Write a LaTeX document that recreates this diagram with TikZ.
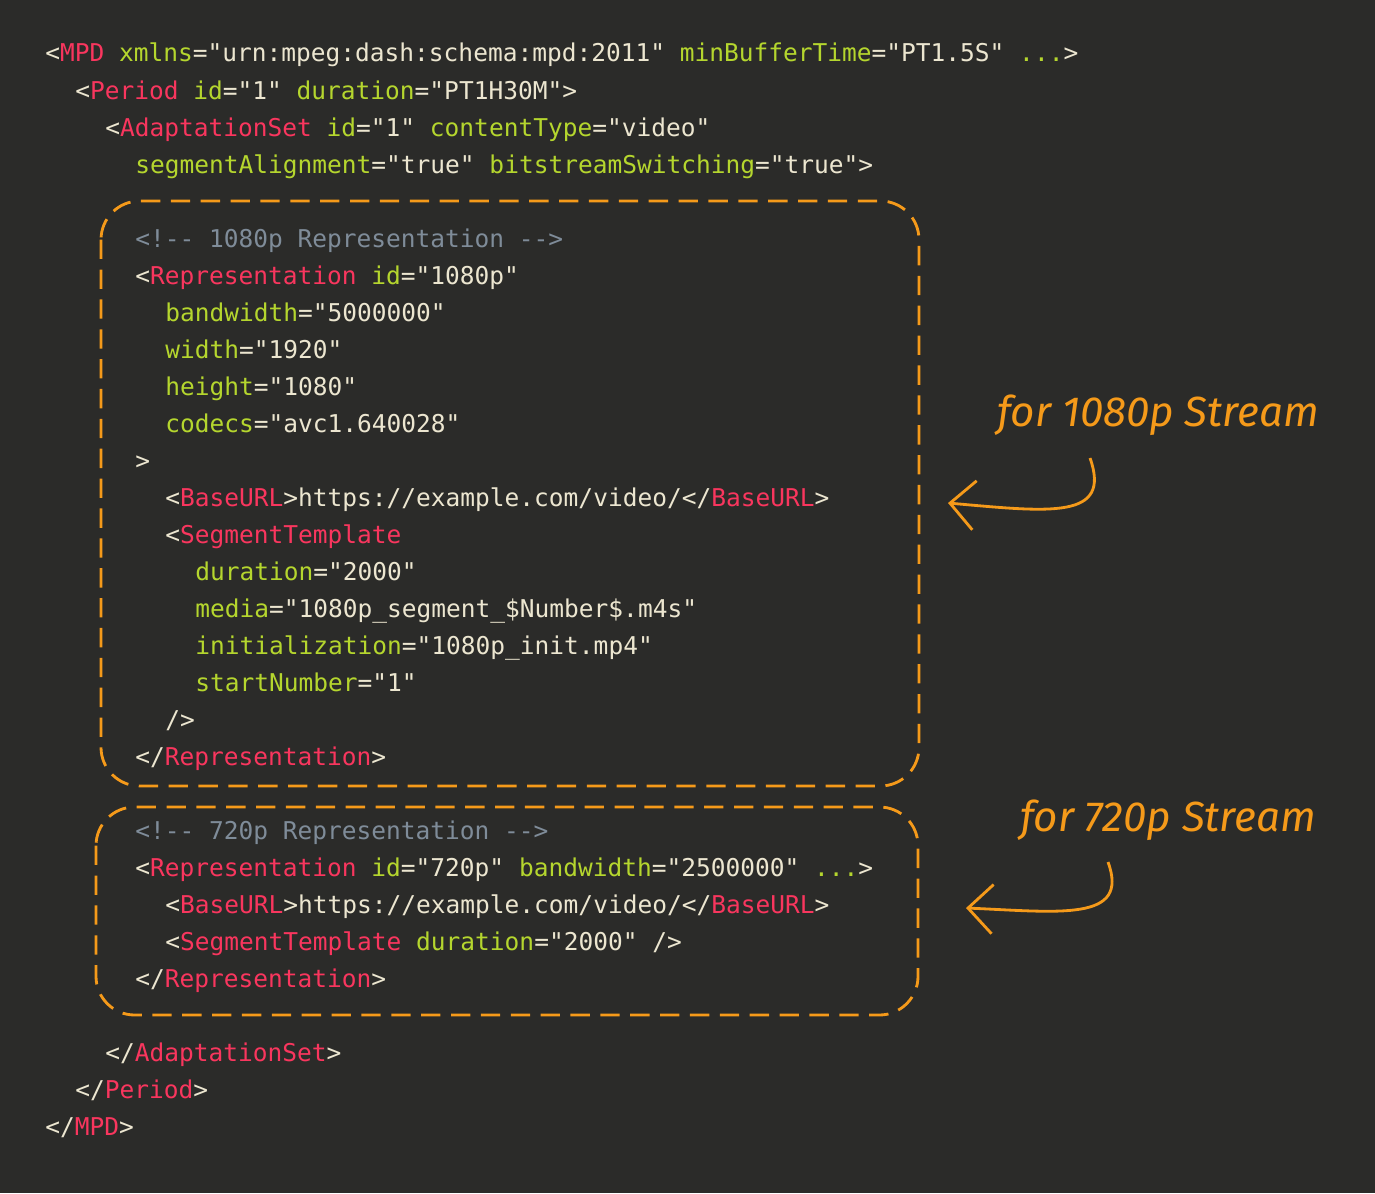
\documentclass[tikz,border=0pt]{standalone}
\usepackage{fontspec}
\usepackage{tikz}
\usetikzlibrary{arrows.meta,positioning}
\newfontfamily\codefont{DejaVu Sans Mono}
\newfontfamily\notefont{Fira Sans}
\definecolor{bgc}{HTML}{2B2B29}
\definecolor{tagc}{HTML}{F9365E}
\definecolor{attc}{HTML}{B5D62E}
\definecolor{valc}{HTML}{ECE6D0}
\definecolor{cmtc}{HTML}{7F8C99}
\definecolor{notec}{HTML}{F59A1A}
\newcommand{\tg}[1]{\textcolor{tagc}{#1}}
\newcommand{\at}[1]{\textcolor{attc}{#1}}
\newcommand{\cm}[1]{\textcolor{cmtc}{#1}}
\begin{document}
\begin{tikzpicture}[x=0.02cm,y=-0.02cm]

	\tikzstyle{code}=[anchor=base west,inner sep=0pt,text=valc,font=\codefont\fontsize{13.95}{16}\selectfont]
	\tikzstyle{box}=[draw=notec,line width=1.6pt,dash pattern=on 11pt off 6pt,rounded corners=22pt]
	\tikzstyle{note}=[text=notec,font=\notefont\itshape\fontsize{24}{28}\selectfont]

	\fill[bgc] (0,0) rectangle (1375,1193);

	\node[code] (l1) at (45,62) {<\tg{MPD} \at{xmlns}="urn:mpeg:dash:schema:mpd:2011" \at{minBufferTime}="PT1.5S" \at{...}>};
	\node[code] (l2) at (75,99) {<\tg{Period} \at{id}="1" \at{duration}="PT1H30M">};
	\node[code] (l3) at (105,136) {<\tg{AdaptationSet} \at{id}="1" \at{contentType}="video"};
	\node[code] (l4) at (135,173) {\at{segmentAlignment}="true" \at{bitstreamSwitching}="true">};

	\node[code] (r1) at (135,247) {\cm{<!-{}- 1080p Representation -{}->}};
	\node[code] (r2) at (135,284) {<\tg{Representation} \at{id}="1080p"};
	\node[code] (r3) at (165,321) {\at{bandwidth}="5000000"};
	\node[code] (r4) at (165,358) {\at{width}="1920"};
	\node[code] (r5) at (165,395) {\at{height}="1080"};
	\node[code] (r6) at (165,432) {\at{codecs}="avc1.640028"};
	\node[code] (r7) at (135,469) {>};
	\node[code] (r8) at (165,506) {<\tg{BaseURL}>https://example.com/video/</\tg{BaseURL}>};
	\node[code] (r9) at (165,543) {<\tg{SegmentTemplate}};
	\node[code] (r10) at (195,580) {\at{duration}="2000"};
	\node[code] (r11) at (195,617) {\at{media}="1080p\_segment\_\$Number\$.m4s"};
	\node[code] (r12) at (195,654) {\at{initialization}="1080p\_init.mp4"};
	\node[code] (r13) at (195,691) {\at{startNumber}="1"};
	\node[code] (r14) at (165,728) {/>};
	\node[code] (r15) at (135,765) {</\tg{Representation}>};

	\node[code] (s1) at (135,839) {\cm{<!-{}- 720p Representation -{}->}};
	\node[code] (s2) at (135,876) {<\tg{Representation} \at{id}="720p" \at{bandwidth}="2500000" \at{...}>};
	\node[code] (s3) at (165,913) {<\tg{BaseURL}>https://example.com/video/</\tg{BaseURL}>};
	\node[code] (s4) at (165,950) {<\tg{SegmentTemplate} \at{duration}="2000" />};
	\node[code] (s5) at (135,987) {</\tg{Representation}>};

	\node[code] (e1) at (105,1061) {</\tg{AdaptationSet}>};
	\node[code] (e2) at (75,1098) {</\tg{Period}>};
	\node[code] (e3) at (45,1135) {</\tg{MPD}>};

	% dashed groups
	\draw[box] (101,201) rectangle (919,786);
	\draw[box] (96,807) rectangle (918,1015);

	% notes
	\node[note] (n1) at (1158,415) {for 1080p Stream};
	\node[note] (n2) at (1168,820) {for 720p Stream};
	\coordinate (b1) at (1090,458);
	\coordinate (b2) at (1108,862);
	\coordinate (a1) at (948,503);
	\coordinate (a2) at (966,908);
	\draw[notec,line width=1.6pt,-{Straight Barb[length=14pt,width=28pt]}]
		(b1) .. controls (1112,520) and (1050,512) .. (a1);
	\draw[notec,line width=1.6pt,-{Straight Barb[length=14pt,width=28pt]}]
		(b2) .. controls (1130,922) and (1060,912) .. (a2);
\end{tikzpicture}
\end{document}
